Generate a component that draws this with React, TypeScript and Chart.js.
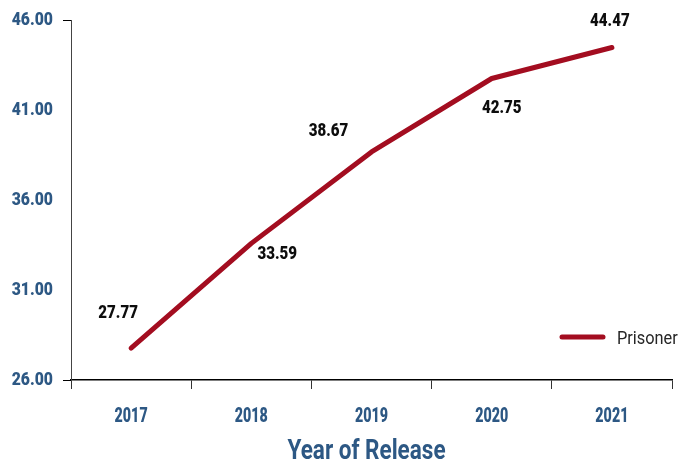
import React, { useEffect, useRef } from "react";
import { Chart, registerables } from "chart.js";

Chart.register(...registerables);

const years = ["2017", "2018", "2019", "2020", "2021"];
const prisoner = [27.77, 33.59, 38.67, 42.75, 44.47];
const yTicks = [26, 31, 36, 41, 46];
const seriesName = "Prisoner";
const axisTitle = "Year of Release";

// label placement relative to each point (dx, dy in px)
const labelOffsets: [number, number][] = [
  [-13, -36],
  [26, 10],
  [-43, -22],
  [10, 28],
  [-2, -28],
];

const FONT = "Roboto, 'DejaVu Sans', sans-serif";
const BLUE = "#2d5884";
const RED = "#a30d20";

// draws horizontally condensed text
function drawNarrow(
  ctx: CanvasRenderingContext2D,
  text: string,
  x: number,
  y: number,
  font: string,
  sx: number,
  align: CanvasTextAlign,
  baseline: CanvasTextBaseline,
  color: string
) {
  ctx.save();
  ctx.translate(x, y);
  ctx.scale(sx, 1);
  ctx.font = font;
  ctx.fillStyle = color;
  ctx.textAlign = align;
  ctx.textBaseline = baseline;
  ctx.fillText(text, 0, 0);
  ctx.restore();
}

const textLayer = {
  id: "textLayer",
  afterDraw(chart: any) {
    const ctx = chart.ctx as CanvasRenderingContext2D;
    const xs = chart.scales.x;
    const ys = chart.scales.y;
    const area = chart.chartArea;

    // y tick labels
    yTicks.forEach((v) => {
      const py = ys.getPixelForValue(v);
      drawNarrow(ctx, v.toFixed(2), area.left - 18, py + 5, `900 17.5px ${FONT}`, 0.9, "right", "alphabetic", BLUE);
    });

    // x tick labels
    years.forEach((y, i) => {
      const px = xs.getPixelForValue(i);
      drawNarrow(ctx, y, px, area.bottom + 42, `900 21px ${FONT}`, 0.68, "center", "alphabetic", BLUE);
    });

    // axis title
    drawNarrow(ctx, axisTitle, (area.left + area.right) / 2 - 5, area.bottom + 79, `bold 28.5px ${FONT}`, 0.79, "center", "alphabetic", BLUE);

    // value labels
    const meta = chart.getDatasetMeta(0);
    meta.data.forEach((pt: any, i: number) => {
      const [dx, dy] = labelOffsets[i];
      drawNarrow(ctx, prisoner[i].toFixed(2), pt.x + dx, pt.y + dy + 6, `900 18px ${FONT}`, 0.84, "center", "alphabetic", "#0d0d0d");
    });

    // legend inside plot area
    const ly = area.bottom - 43;
    const lx = area.right - 110;
    ctx.save();
    ctx.strokeStyle = RED;
    ctx.lineWidth = 5;
    ctx.lineCap = "round";
    ctx.beginPath();
    ctx.moveTo(lx, ly);
    ctx.lineTo(lx + 41, ly);
    ctx.stroke();
    ctx.restore();
    drawNarrow(ctx, seriesName, lx + 55, ly + 6.5, `19px ${FONT}`, 0.86, "left", "alphabetic", "#262626");
  },
};

export default function App() {
  const ref = useRef<HTMLCanvasElement>(null);

  useEffect(() => {
    document.body.style.margin = "0";
    const canvas = ref.current!;
    const chart = new Chart(canvas, {
      type: "line",
      data: {
        labels: years,
        datasets: [
          {
            label: seriesName,
            data: prisoner,
            borderColor: RED,
            backgroundColor: RED,
            borderWidth: 5,
            borderCapStyle: "round",
            borderJoinStyle: "round",
            pointRadius: 0,
            tension: 0,
          },
        ],
      },
      options: {
        animation: false,
        responsive: false,
        maintainAspectRatio: false,
        layout: { padding: { left: 0, right: 7, top: 20, bottom: 0 } },
        plugins: {
          legend: { display: false },
          tooltip: { enabled: false },
        },
        scales: {
          x: {
            offset: true,
            grid: {
              offset: true,
              drawOnChartArea: false,
              color: "#000",
              tickColor: "#333",
              tickLength: 9,
            },
            border: { display: true, color: "#000", width: 1.5 },
            ticks: { display: false },
            afterFit(scale: any) {
              scale.height = 84;
            },
          },
          y: {
            min: 26,
            max: 46,
            afterBuildTicks(scale: any) {
              scale.ticks = yTicks.map((v) => ({ value: v }));
            },
            grid: {
              drawOnChartArea: false,
              tickLength: 8,
              tickColor: (c: any) =>
                c.index === 0 || c.index === yTicks.length - 1 ? "#000" : "rgba(0,0,0,0)",
            },
            border: { display: true, color: "#444", width: 1 },
            ticks: { display: false },
            afterFit(scale: any) {
              scale.width = 71;
            },
          },
        },
      },
      plugins: [textLayer],
    });
    return () => chart.destroy();
  }, []);

  return (
    <div style={{ width: 679, height: 464 }}>
      <canvas ref={ref} width={679} height={464} style={{ display: "block" }} />
    </div>
  );
}
